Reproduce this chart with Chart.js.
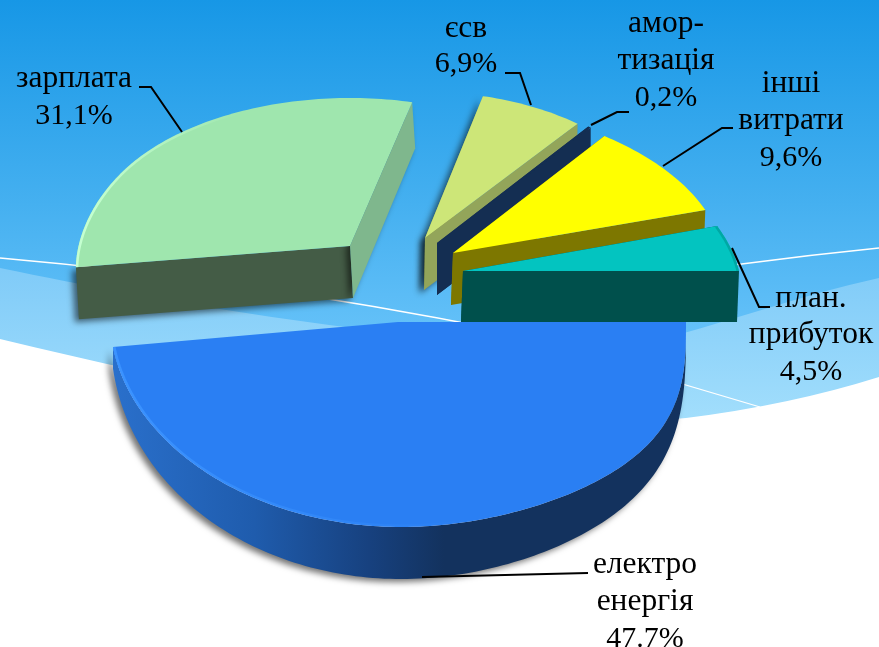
<!DOCTYPE html>
<html>
<head>
<meta charset="utf-8">
<script src="https://cdn.jsdelivr.net/npm/chart.js"></script>
<style>
  html, body { margin: 0; padding: 0; background: #fff; }
  canvas { display: block; }
</style>
</head>
<body>
<canvas id="pie" width="879" height="647"></canvas>
<script>
// data, in the order of the pie (clockwise from 3 o'clock)
const categories = ['електро енергія', 'зарплата', 'єсв', 'амортизація', 'інші витрати', 'план. прибуток'];
const shares = [47.7, 31.1, 6.9, 0.2, 9.6, 4.5];
const shareLabels = ['47.7%', '31,1%', '6,9%', '0,2%', '9,6%', '4,5%'];
const nameLines = [['електро', 'енергія'], ['зарплата'], ['єсв'], ['амор-', 'тизація'], ['інші', 'витрати'], ['план.', 'прибуток']];

const topColors = ['#2a7ff3', '#9fe6ae', '#cde678', '#142e52', '#ffff00', '#03c4c0'];

// fake 3D: each exploded slice gets its own projection of the unit circle
const slices = [
  { x: 398, y: 322, a: 288, b: 205, bend: -4.5, bulge: 0.3, dx: 0, depth: 52, startWall: '#1c559f', endWall: '#1c559f', rim: true, shadow: true, glow: '#3b93ff', glowTo: 470 },
  { x: 350, y: 246, a: 263, b: 148, flare: 14, shrink: 0.12, dx: 3, depth: 52, startWall: '#445c46', endWall: '#7fb78d', shadow: true, glow: '#c4ffd0', glowTo: 240 },
  { x: 425, y: 238, a: 245, b: 146, dx: -1, depth: 52, startWall: '#93a55a', endWall: '#93a55a', shadow: true },
  { x: 437, y: 243, a: 243, b: 149, dx: 0, depth: 52, startWall: '#142e52', endWall: '#142e52' },
  { x: 453, y: 253, a: 270, b: 150, c: 25, d: -1.2, dx: -2, depth: 52, startWall: '#7d7700', endWall: '#7d7700' },
  { x: 463, y: 271, a: 276, b: 161, c: 39, dx: -2, depth: 51, startWall: '#00504c', endWall: '#00504c', glow: '#00a8a4' }
];
const paintOrder = [2, 3, 4, 5, 1, 0];

// label placement, same order as categories: x centre and one baseline per line
const labelSpots = [
  { x: 645, y: [573, 610, 647] },
  { x: 74, y: [87, 124] },
  { x: 466, y: [37, 72] },
  { x: 666, y: [32, 69, 106] },
  { x: 791, y: [92, 129, 166] },
  { x: 811, y: [307, 343, 380] }
];
const leaders = [
  [[422, 577], [588, 573]],
  [[139, 87], [151, 87], [182, 132]],
  [[505, 73], [520, 73], [531, 105]],
  [[591, 125], [617, 112], [629, 112]],
  [[663, 166], [722, 128], [733, 128]],
  [[732, 248], [759, 307], [770, 307]]
];

function project(s, t, down) {
  const cos = Math.cos(t), sin = Math.sin(t);
  // flare widens the slice near its front corner, perspective does that in the original
  const k = Math.max(0, sin + 0.5) / 0.644;
  const flare = s.flare ? s.flare * k * k * cos : 0;
  const lift = s.bulge && sin > 0 ? Math.pow(sin, 1 - s.bulge * Math.max(cos, 0)) : sin;
  return [
    s.x + s.a * cos + (s.c || 0) * sin + flare + (down ? s.dx : 0),
    s.y + s.b * lift + (s.d || 0) * cos + (s.bend || 0) * cos * (cos - 1) / 2 + (down || 0)
  ];
}

function sampleAngles(from, to) {
  const list = [];
  const n = Math.max(2, Math.ceil((to - from) / 0.02));
  for (let i = 0; i <= n; i++) list.push(from + (to - from) * i / n);
  return list;
}

function polygon(ctx, pts) {
  ctx.beginPath();
  pts.forEach((p, i) => i ? ctx.lineTo(p[0], p[1]) : ctx.moveTo(p[0], p[1]));
  ctx.closePath();
}

function drawWall(ctx, s, t, color) {
  const far = 1 - (s.shrink || 0) * Math.max(0, -Math.sin(t));
  const p = project(s, t, 0), q = project(s, t, s.depth * far);
  polygon(ctx, [[s.x, s.y], p, q, [s.x + s.dx, s.y + s.depth]]);
  ctx.fillStyle = color;
  ctx.fill();
}

function drawRim(ctx, s, from, to) {
  const angles = sampleAngles(from, to);
  const upper = angles.map(t => project(s, t, 0));
  const lower = angles.map(t => {
    const sin = Math.max(0, Math.sin(t));
    return project(s, t, s.depth * Math.pow(sin, 0.45));
  });
  polygon(ctx, upper.concat(lower.reverse()));
  const g = ctx.createLinearGradient(s.x - s.a, 0, s.x + s.a, 0);
  g.addColorStop(0, '#2a70cc');
  g.addColorStop(0.25, '#1f5cad');
  g.addColorStop(0.45, '#17417f');
  g.addColorStop(0.58, '#13325e');
  g.addColorStop(1, '#13325e');
  ctx.fillStyle = g;
  ctx.fill();
}

function drawBackground(ctx) {
  const sky = ctx.createLinearGradient(0, 0, 0, 340);
  sky.addColorStop(0, '#1797e6');
  sky.addColorStop(0.6, '#45b0f0');
  sky.addColorStop(1, '#66c2f9');
  ctx.fillStyle = sky;
  ctx.fillRect(0, 0, 879, 647);

  const band = ctx.createLinearGradient(0, 270, 0, 420);
  band.addColorStop(0, '#80cbf8');
  band.addColorStop(1, '#a2defc');
  ctx.beginPath();
  ctx.moveTo(0, 268);
  ctx.bezierCurveTo(180, 305, 430, 350, 640, 345);
  ctx.bezierCurveTo(720, 325, 800, 295, 879, 278);
  ctx.lineTo(879, 647);
  ctx.lineTo(0, 647);
  ctx.closePath();
  ctx.fillStyle = band;
  ctx.fill();

  ctx.beginPath();
  ctx.moveTo(0, 339);
  ctx.bezierCurveTo(230, 395, 470, 440, 686, 418);
  ctx.quadraticCurveTo(790, 405, 879, 377);
  ctx.lineTo(879, 647);
  ctx.lineTo(0, 647);
  ctx.closePath();
  ctx.fillStyle = '#ffffff';
  ctx.fill();

  ctx.strokeStyle = '#ffffff';
  ctx.lineWidth = 1.3;
  ctx.beginPath();
  ctx.moveTo(0, 258);
  ctx.quadraticCurveTo(250, 280, 500, 330);
  ctx.lineTo(760, 407);
  ctx.stroke();
  ctx.beginPath();
  ctx.moveTo(600, 285);
  ctx.quadraticCurveTo(740, 262, 879, 248);
  ctx.stroke();
}

const pie3d = {
  id: 'pie3d',
  beforeDraw(chart) {
    drawBackground(chart.ctx);
  },
  // the library has laid out the arcs, we paint them with our own projection
  beforeDatasetsDraw(chart) {
    const ctx = chart.ctx;
    const arcs = chart.getDatasetMeta(0).data;
    paintOrder.forEach(i => {
      const s = slices[i], arc = arcs[i];
      const from = arc.startAngle, to = arc.endAngle;

      ctx.save();
      if (s.shadow) {
        ctx.shadowColor = 'rgba(0,0,0,0.55)';
        ctx.shadowBlur = 6;
        ctx.shadowOffsetX = -4;
        ctx.shadowOffsetY = 3;
      }
      if (s.rim) drawRim(ctx, s, from, to);
      else {
        drawWall(ctx, s, from, s.startWall);
        drawWall(ctx, s, to, s.endWall);
      }
      ctx.restore();

      const edge = sampleAngles(from, to).map(t => project(s, t, 0));
      polygon(ctx, [[s.x, s.y]].concat(edge));
      ctx.fillStyle = arc.options.backgroundColor;
      ctx.fill();

      if (s.glow) {
        ctx.save();
        ctx.clip();
        if (s.glowTo) {
          const g = ctx.createLinearGradient(s.x - s.a, 0, s.glowTo, 0);
          g.addColorStop(0, s.glow);
          g.addColorStop(1, s.glow + '00');
          ctx.strokeStyle = g;
        } else {
          ctx.strokeStyle = s.glow;
        }
        ctx.lineWidth = 5;
        ctx.beginPath();
        edge.forEach((p, k) => k ? ctx.lineTo(p[0], p[1]) : ctx.moveTo(p[0], p[1]));
        ctx.stroke();
        ctx.restore();
      }
    });
    return false;
  },
  afterDraw(chart) {
    const ctx = chart.ctx;
    ctx.strokeStyle = '#000';
    ctx.lineWidth = 2;
    leaders.forEach(line => {
      ctx.beginPath();
      line.forEach((p, k) => k ? ctx.lineTo(p[0], p[1]) : ctx.moveTo(p[0], p[1]));
      ctx.stroke();
    });
    ctx.fillStyle = '#000';
    ctx.textAlign = 'center';
    ctx.textBaseline = 'alphabetic';
    categories.forEach((name, i) => {
      const spot = labelSpots[i];
      ctx.font = '31.5px "Liberation Serif"';
      nameLines[i].forEach((text, k) => ctx.fillText(text, spot.x, spot.y[k]));
      ctx.font = '30px "Liberation Serif"';
      ctx.fillText(shareLabels[i], spot.x, spot.y[nameLines[i].length]);
    });
  }
};

new Chart(document.getElementById('pie'), {
  type: 'pie',
  data: {
    labels: categories,
    datasets: [{ data: shares, backgroundColor: topColors, borderWidth: 0 }]
  },
  options: {
    responsive: false,
    animation: false,
    rotation: 90,
    plugins: { legend: { display: false }, tooltip: { enabled: false } }
  },
  plugins: [pie3d]
});
</script>
</body>
</html>
